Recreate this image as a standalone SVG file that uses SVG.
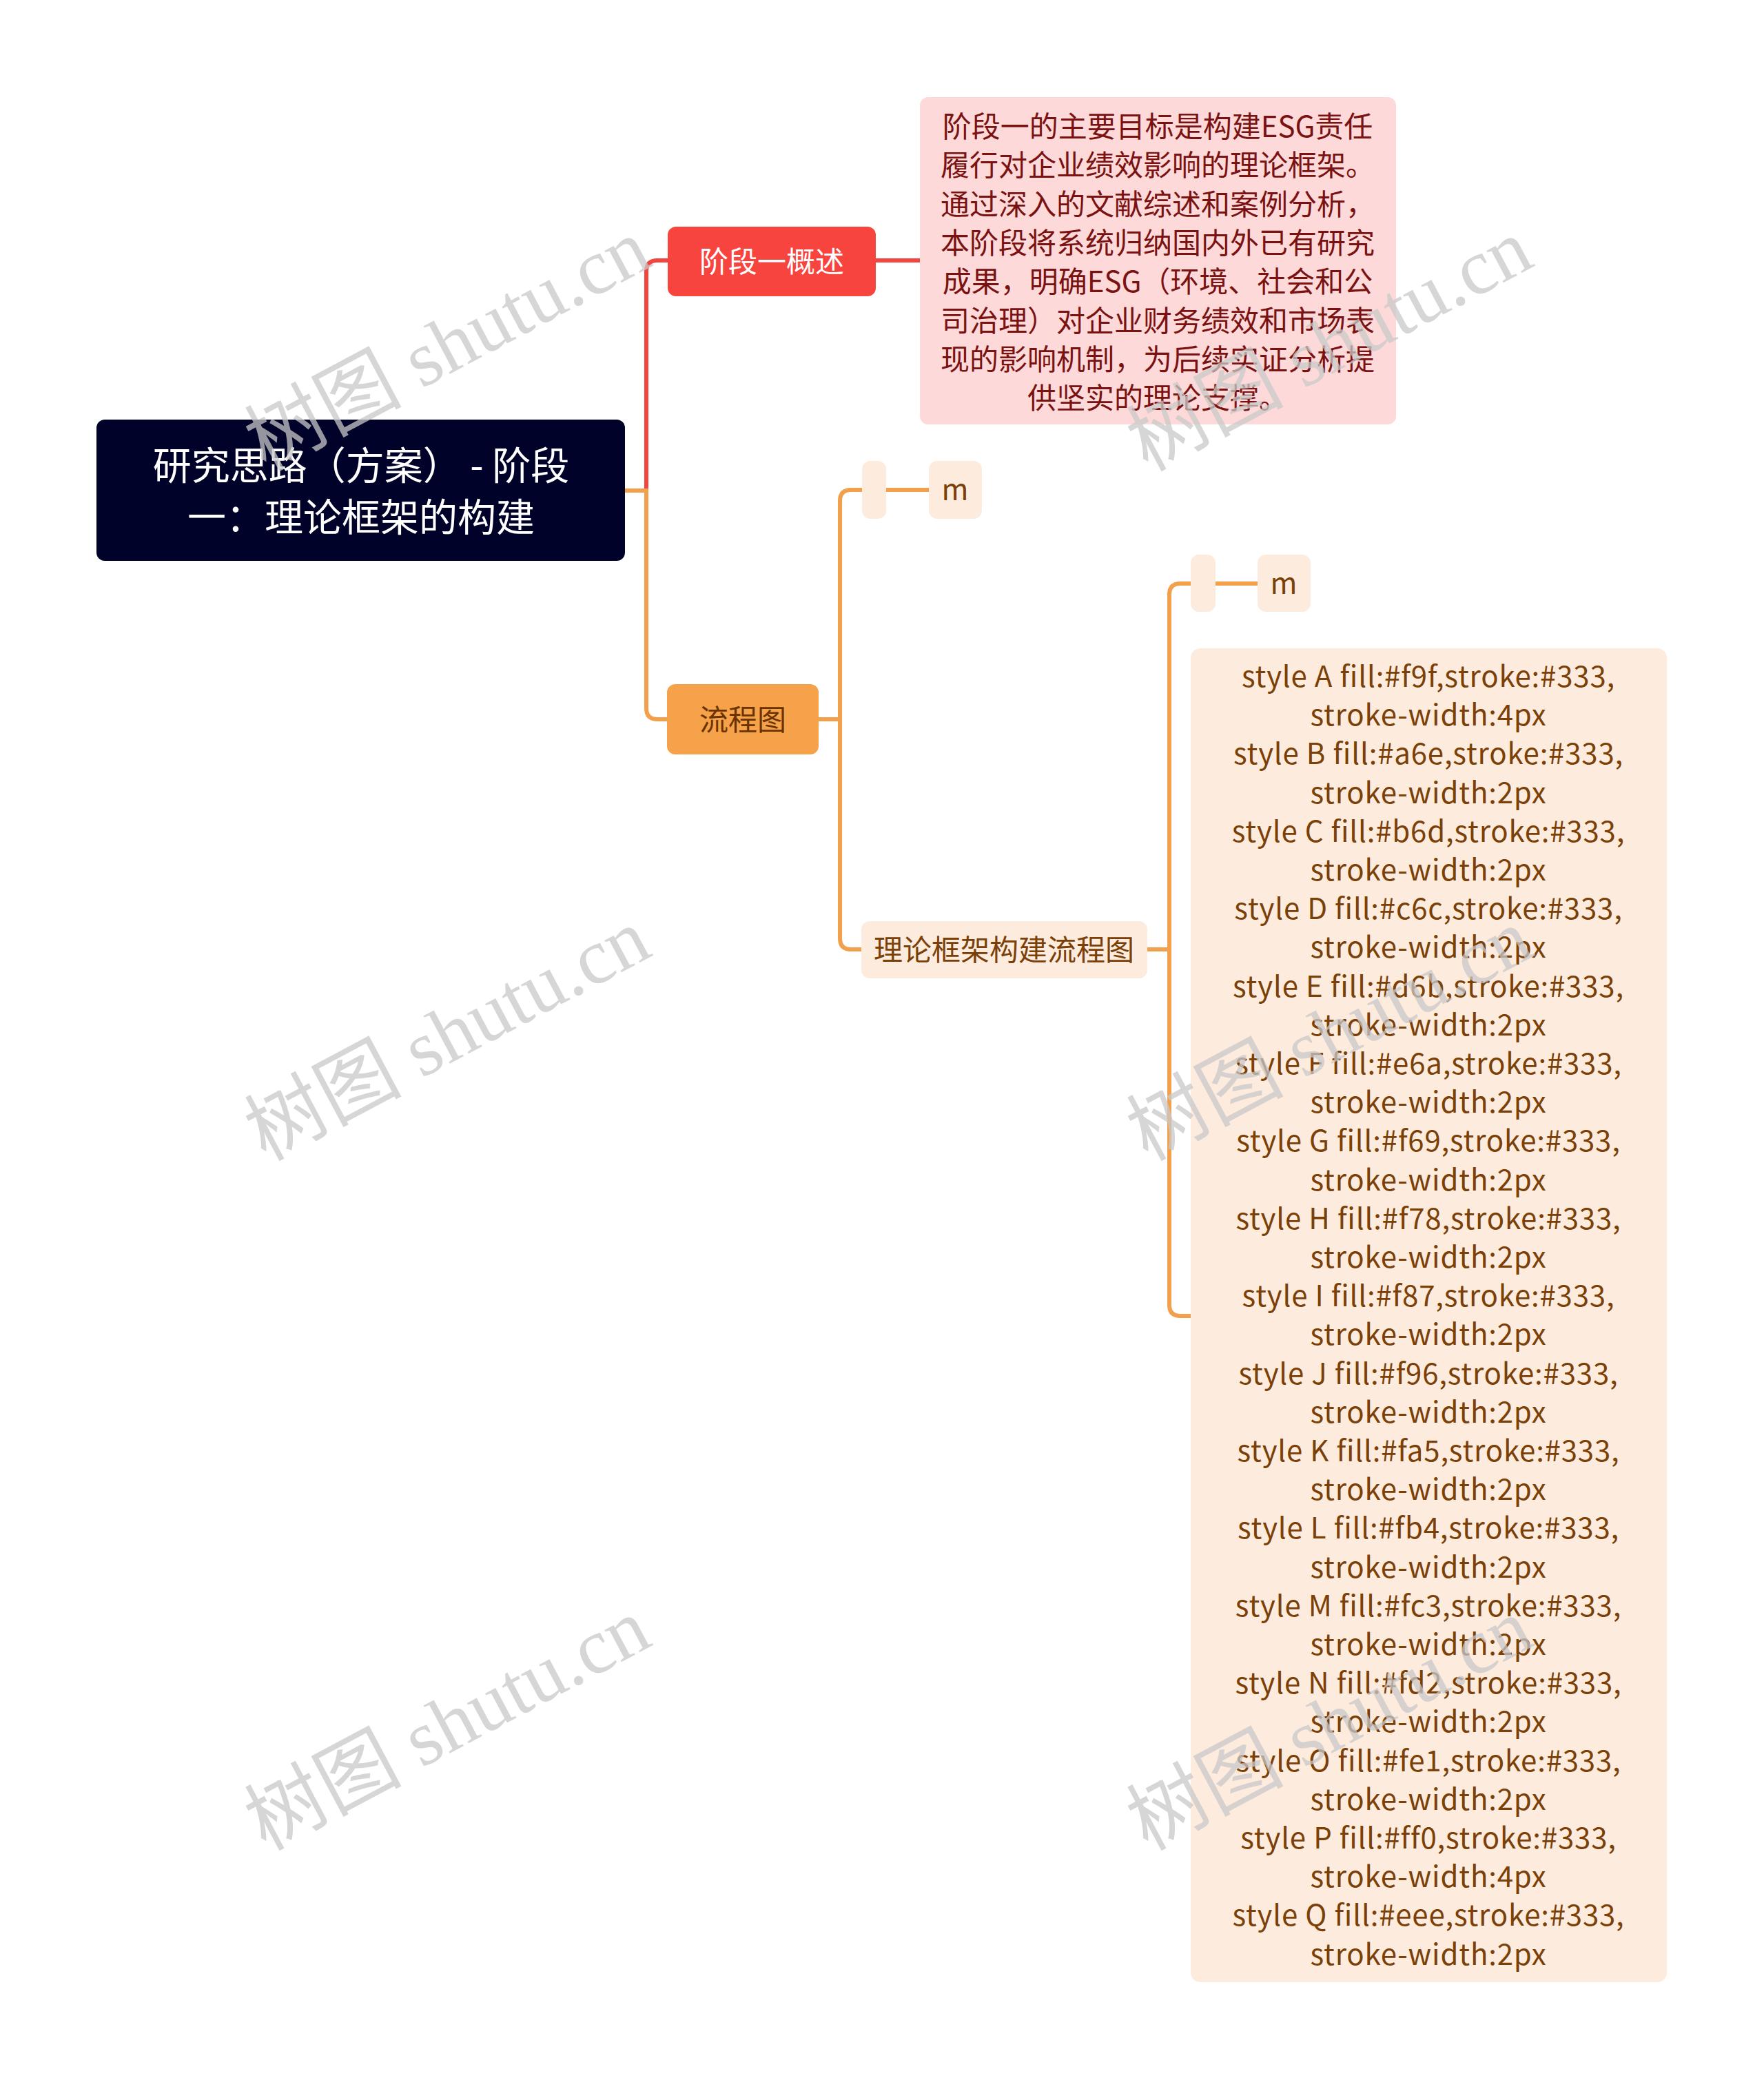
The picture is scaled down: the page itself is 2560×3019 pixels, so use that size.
<svg xmlns="http://www.w3.org/2000/svg" width="2560" height="3019" viewBox="0 0 2560 3019">
<style>
.t{font-family:"Noto Sans CJK SC","Noto Sans",sans-serif;text-anchor:middle}
.root{fill:#ffffff;font-size:56px}
.red{fill:#ffffff;font-size:42px}
.desc{fill:#7b1212;font-size:42px}
.org{fill:#6b3300;font-size:42px}
.peach{fill:#7b3f08;font-size:42px}
.sty{letter-spacing:0.8px}
.wm{font-family:"Liberation Serif","Noto Sans CJK SC",serif;font-size:114px;fill:#c8c8c8;fill-opacity:0.75}
.lr{fill:none;stroke:#f2453f;stroke-width:6}
.lo{fill:none;stroke:#f3a04d;stroke-width:6}
</style>
<rect width="2560" height="3019" fill="#ffffff"/>
<g id="connectors">
<path class="lr" d="M938 712 V394 Q938 378 954 378 H972"/>
<path class="lr" d="M1268 378 H1337"/>
<path class="lo" d="M905 712 H938 V1028 Q938 1044 954 1044 H970"/>
<path class="lo" d="M1186 1044 H1219"/>
<path class="lo" d="M1219 1044 V727 Q1219 711 1235 711 H1253"/>
<path class="lo" d="M1219 1044 V1362 Q1219 1378 1235 1378 H1252"/>
<path class="lo" d="M1284 711 H1350"/>
<path class="lo" d="M1663 1378 H1697"/>
<path class="lo" d="M1697 1378 V863 Q1697 847 1713 847 H1730"/>
<path class="lo" d="M1697 1378 V1894 Q1697 1910 1713 1910 H1730"/>
<path class="lo" d="M1762 847 H1827"/>
</g>
<g id="root">
<rect x="140" y="609" width="767" height="205" rx="12" fill="#00022a"/>
<text class="t root" x="524" y="696">研究思路（方案） - 阶段</text>
<text class="t root" x="524" y="771">一：理论框架的构建</text>
</g>
<g id="n-overview">
<rect x="969" y="329" width="302" height="101" rx="12" fill="#f7443e"/>
<text class="t red" x="1120" y="395">阶段一概述</text>
</g>
<g id="n-desc">
<rect x="1335" y="141" width="691" height="475" rx="12" fill="#fdd9d9"/>
<text class="t desc" x="1680" y="199">阶段一的主要目标是构建ESG责任</text>
<text class="t desc" x="1680" y="255">履行对企业绩效影响的理论框架。</text>
<text class="t desc" x="1680" y="312">通过深入的文献综述和案例分析，</text>
<text class="t desc" x="1680" y="368">本阶段将系统归纳国内外已有研究</text>
<text class="t desc" x="1680" y="424">成果，明确ESG（环境、社会和公</text>
<text class="t desc" x="1680" y="481">司治理）对企业财务绩效和市场表</text>
<text class="t desc" x="1680" y="537">现的影响机制，为后续实证分析提</text>
<text class="t desc" x="1680" y="593">供坚实的理论支撑。</text>
</g>
<g id="n-flow">
<rect x="968" y="993" width="220" height="102" rx="12" fill="#f5a24b"/>
<text class="t org" x="1078" y="1060">流程图</text>
</g>
<g id="n-blank1">
<rect x="1251" y="669" width="35" height="84" rx="12" fill="#fdecdd"/>
</g>
<g id="n-m1">
<rect x="1348" y="669" width="77" height="84" rx="12" fill="#fdecdd"/>
<text class="t peach" x="1386" y="726">m</text>
</g>
<g id="n-framework">
<rect x="1250" y="1337" width="415" height="83" rx="12" fill="#fdecdd"/>
<text class="t peach" x="1457" y="1394">理论框架构建流程图</text>
</g>
<g id="n-blank2">
<rect x="1728" y="805" width="36" height="83" rx="12" fill="#fdecdd"/>
</g>
<g id="n-m2">
<rect x="1825" y="805" width="77" height="83" rx="12" fill="#fdecdd"/>
<text class="t peach" x="1863" y="862">m</text>
</g>
<g id="n-styles">
<rect x="1728" y="941" width="691" height="1936" rx="14" fill="#fdecdd"/>
<text class="t peach sty" x="2073" y="997">style A fill:#f9f,stroke:#333,</text>
<text class="t peach sty" x="2073" y="1053">stroke-width:4px</text>
<text class="t peach sty" x="2073" y="1109">style B fill:#a6e,stroke:#333,</text>
<text class="t peach sty" x="2073" y="1166">stroke-width:2px</text>
<text class="t peach sty" x="2073" y="1222">style C fill:#b6d,stroke:#333,</text>
<text class="t peach sty" x="2073" y="1278">stroke-width:2px</text>
<text class="t peach sty" x="2073" y="1334">style D fill:#c6c,stroke:#333,</text>
<text class="t peach sty" x="2073" y="1390">stroke-width:2px</text>
<text class="t peach sty" x="2073" y="1447">style E fill:#d6b,stroke:#333,</text>
<text class="t peach sty" x="2073" y="1503">stroke-width:2px</text>
<text class="t peach sty" x="2073" y="1559">style F fill:#e6a,stroke:#333,</text>
<text class="t peach sty" x="2073" y="1615">stroke-width:2px</text>
<text class="t peach sty" x="2073" y="1671">style G fill:#f69,stroke:#333,</text>
<text class="t peach sty" x="2073" y="1728">stroke-width:2px</text>
<text class="t peach sty" x="2073" y="1784">style H fill:#f78,stroke:#333,</text>
<text class="t peach sty" x="2073" y="1840">stroke-width:2px</text>
<text class="t peach sty" x="2073" y="1896">style I fill:#f87,stroke:#333,</text>
<text class="t peach sty" x="2073" y="1952">stroke-width:2px</text>
<text class="t peach sty" x="2073" y="2009">style J fill:#f96,stroke:#333,</text>
<text class="t peach sty" x="2073" y="2065">stroke-width:2px</text>
<text class="t peach sty" x="2073" y="2121">style K fill:#fa5,stroke:#333,</text>
<text class="t peach sty" x="2073" y="2177">stroke-width:2px</text>
<text class="t peach sty" x="2073" y="2233">style L fill:#fb4,stroke:#333,</text>
<text class="t peach sty" x="2073" y="2290">stroke-width:2px</text>
<text class="t peach sty" x="2073" y="2346">style M fill:#fc3,stroke:#333,</text>
<text class="t peach sty" x="2073" y="2402">stroke-width:2px</text>
<text class="t peach sty" x="2073" y="2458">style N fill:#fd2,stroke:#333,</text>
<text class="t peach sty" x="2073" y="2514">stroke-width:2px</text>
<text class="t peach sty" x="2073" y="2571">style O fill:#fe1,stroke:#333,</text>
<text class="t peach sty" x="2073" y="2627">stroke-width:2px</text>
<text class="t peach sty" x="2073" y="2683">style P fill:#ff0,stroke:#333,</text>
<text class="t peach sty" x="2073" y="2739">stroke-width:4px</text>
<text class="t peach sty" x="2073" y="2795">style Q fill:#eee,stroke:#333,</text>
<text class="t peach sty" x="2073" y="2852">stroke-width:2px</text>
</g>
<g id="watermarks">
<text class="wm" x="385" y="685" transform="rotate(-28 385 685)">树图 shutu.cn</text>
<text class="wm" x="385" y="1686" transform="rotate(-28 385 1686)">树图 shutu.cn</text>
<text class="wm" x="385" y="2687" transform="rotate(-28 385 2687)">树图 shutu.cn</text>
<text class="wm" x="1665" y="685" transform="rotate(-28 1665 685)">树图 shutu.cn</text>
<text class="wm" x="1665" y="1686" transform="rotate(-28 1665 1686)">树图 shutu.cn</text>
<text class="wm" x="1665" y="2687" transform="rotate(-28 1665 2687)">树图 shutu.cn</text>
</g>
</svg>
